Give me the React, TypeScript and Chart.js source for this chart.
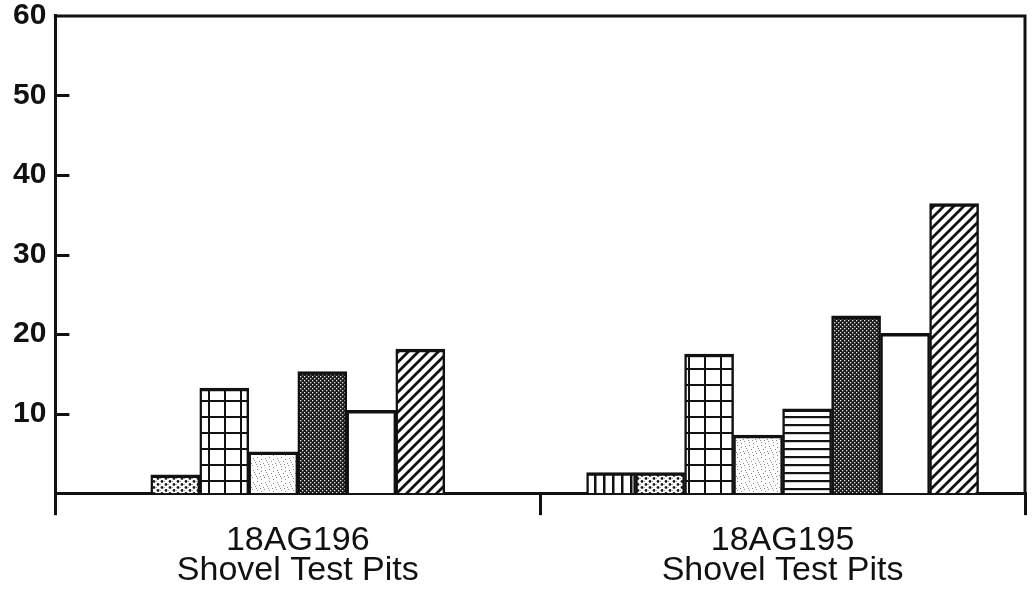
import React, { useEffect, useRef } from "react";
import { Chart, registerables } from "chart.js";

Chart.register(...registerables);

// ---- data ----
const categories: string[][] = [
  ["18AG196", "Shovel Test Pits"],
  ["18AG195", "Shovel Test Pits"],
];
const seriesNames = [
  "Vertical lines",
  "Dotted",
  "Grid",
  "Light stipple",
  "Horizontal lines",
  "Dark stipple",
  "Open",
  "Hatched",
];
const verticalLines: (number | null)[] = [null, 2.6];
const dotted: (number | null)[] = [2.3, 2.6];
const gridded: (number | null)[] = [13.2, 17.5];
const lightStipple: (number | null)[] = [5.2, 7.3];
const horizontalLines: (number | null)[] = [null, 10.6];
const darkStipple: (number | null)[] = [15.3, 22.3];
const open: (number | null)[] = [10.4, 20.1];
const hatched: (number | null)[] = [18.1, 36.4];
const yMax = 60;
const yStep = 10;

const FONT = "'Liberation Sans', Arial, Helvetica, sans-serif";

function tile(w: number, h: number, draw: (c: CanvasRenderingContext2D) => void) {
  const cv = document.createElement("canvas");
  cv.width = w;
  cv.height = h;
  const c = cv.getContext("2d")!;
  c.fillStyle = "#ffffff";
  c.fillRect(0, 0, w, h);
  draw(c);
  const ctx = document.createElement("canvas").getContext("2d")!;
  return ctx.createPattern(cv, "repeat") as CanvasPattern;
}

function makePatterns() {
  const vlines = tile(9, 9, (c) => {
    c.fillStyle = "#111";
    c.fillRect(0, 0, 2.5, 9);
  });
  const dots = tile(8, 6, (c) => {
    c.fillStyle = "#222";
    c.beginPath();
    c.arc(2, 1.5, 1.4, 0, Math.PI * 2);
    c.fill();
    c.beginPath();
    c.arc(6, 4.5, 1.4, 0, Math.PI * 2);
    c.fill();
    c.fillStyle = "#999";
    c.fillRect(4, 1, 1, 1);
    c.fillRect(0, 4, 1, 1);
  });
  const grid = tile(16, 16, (c) => {
    c.fillStyle = "#111";
    c.fillRect(0, 0, 16, 2);
    c.fillRect(0, 0, 2, 16);
  });
  const light = tile(12, 12, (c) => {
    c.fillStyle = "#8a8a8a";
    const pts = [
      [1, 2], [5, 1], [9, 3], [3, 6], [7, 5], [11, 7], [0, 9], [5, 10], [9, 11], [2, 4], [8, 8], [4, 8],
    ];
    for (const [x, y] of pts) c.fillRect(x, y, 1, 1);
  });
  const hlines = tile(8, 8, (c) => {
    c.fillStyle = "#111";
    c.fillRect(0, 0, 8, 2.2);
  });
  const dark = tile(4, 4, (c) => {
    c.fillStyle = "#1a1a1a";
    c.fillRect(0, 0, 4, 4);
    c.fillStyle = "#e8e8e8";
    c.fillRect(0, 0, 1.3, 1.3);
    c.fillRect(2, 2, 1.3, 1.3);
  });
  const hatch = tile(10, 10, (c) => {
    c.strokeStyle = "#111";
    c.lineWidth = 2.8;
    c.beginPath();
    c.moveTo(-2, 12);
    c.lineTo(12, -2);
    c.moveTo(-7, 7);
    c.lineTo(7, -7);
    c.moveTo(3, 17);
    c.lineTo(17, 3);
    c.stroke();
  });
  return { vlines, dots, grid, light, hlines, dark, hatch };
}

const frameAndTicks = {
  id: "frameAndTicks",
  afterDraw(chart: any) {
    const { ctx, chartArea, scales } = chart;
    const y = scales.y;
    ctx.save();
    ctx.strokeStyle = "#111";
    ctx.fillStyle = "#111";
    ctx.lineWidth = 3;
    ctx.lineCap = "square";
    ctx.beginPath();
    ctx.moveTo(chartArea.left, chartArea.top);
    ctx.lineTo(chartArea.right, chartArea.top);
    ctx.lineTo(chartArea.right, chartArea.bottom);
    ctx.stroke();
    ctx.lineCap = "butt";
    ctx.lineWidth = 3;
    ctx.beginPath();
    for (let v = yStep; v < yMax; v += yStep) {
      const py = Math.round(y.getPixelForValue(v)) + 0.5;
      ctx.moveTo(chartArea.left, py);
      ctx.lineTo(chartArea.left + 14, py);
    }
    ctx.stroke();
    ctx.restore();
  },
};

export default function App() {
  const ref = useRef<HTMLCanvasElement | null>(null);

  useEffect(() => {
    document.body.style.margin = "0";
    const p = makePatterns();
    const fills = [p.vlines, p.dots, p.grid, p.light, p.hlines, p.dark, "#ffffff", p.hatch];
    const values = [verticalLines, dotted, gridded, lightStipple, horizontalLines, darkStipple, open, hatched];
    const chart = new Chart(ref.current!, {
      type: "bar",
      data: {
        labels: categories,
        datasets: values.map((d, i) => ({
          label: seriesNames[i],
          data: d,
          backgroundColor: fills[i] as any,
          borderColor: "#111",
          borderWidth: { top: 3.5, left: 2.5, right: 2.5, bottom: 0 },
          borderSkipped: false,
        })),
      },
      options: {
        responsive: false,
        animation: false,
        skipNull: true,
        barThickness: 49,
        layout: { padding: { left: 4, right: 8, top: 0, bottom: 0 } },
        plugins: { legend: { display: false }, tooltip: { enabled: false } },
        scales: {
          x: {
            offset: true,
            border: { display: true, color: "#111", width: 3 },
            grid: {
              display: true,
              offset: true,
              drawOnChartArea: false,
              drawTicks: true,
              tickLength: 22,
              color: "#111",
              lineWidth: 3,
            },
            ticks: {
              color: "#111",
              padding: 11,
              maxRotation: 0,
              font: { family: FONT, size: 34, lineHeight: 0.88 },
            },
          },
          y: {
            min: 0,
            max: yMax,
            border: { display: true, color: "#111", width: 3 },
            grid: { display: false, drawTicks: false },
            ticks: {
              stepSize: yStep,
              color: "#111",
              padding: 9,
              font: { family: FONT, size: 30, weight: "bold", lineHeight: 0.46 },
              callback: (v: any) => (v === 0 ? "" : String(v)),
            },
          },
        },
      } as any,
      plugins: [frameAndTicks],
    });
    return () => chart.destroy();
  }, []);

  return (
    <div style={{ position: "absolute", left: 0, top: 0, width: 1033, height: 597, background: "#fff" }}>
      <canvas ref={ref} width={1033} height={597} style={{ display: "block" }} />
    </div>
  );
}
